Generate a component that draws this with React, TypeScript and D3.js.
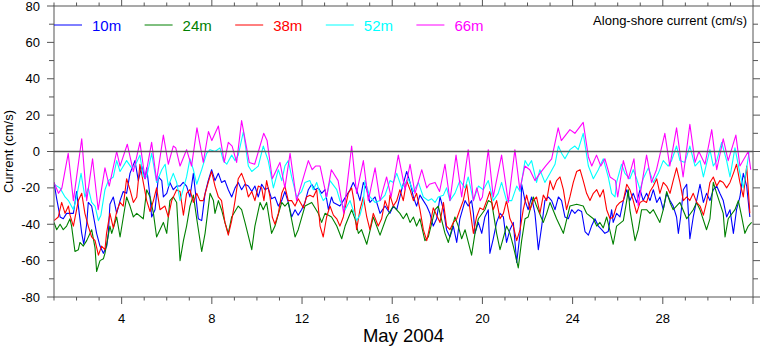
import React from "react";
import * as d3 from "d3";

// ---- data: [day of May 2004, current cm/s] ----
const depth10: [number, number][] = [
  [1.0,-17],[1.12,-26],[1.27,-36],[1.41,-37],[1.56,-34],[1.71,-34],[1.86,-34],[2.0,-22],[2.08,-30],[2.23,-45],[2.32,-51],[2.45,-40],[2.52,-28],[2.67,-30],[2.89,-45],[3.04,-52],[3.19,-56],[3.34,-52],[3.41,-45],[3.48,-29],[3.63,-25],[3.78,-34],[3.93,-27],[4.07,-22],[4.22,-23],[4.37,-12],[4.59,-5],[4.74,-16],[4.89,-8],[5.04,-15],[5.11,-9],[5.26,-25],[5.33,-36],[5.48,-32],[5.63,-14],[5.78,-16],[5.85,-25],[6.0,-23],[6.14,-17],[6.29,-21],[6.44,-19],[6.59,-19],[6.73,-17],[6.88,-19],[7.03,-25],[7.18,-12],
  [7.4,-37],[7.55,-38],[7.7,-23],[7.84,-16],[7.99,-10],[8.14,-16],[8.29,-12],[8.43,-17],[8.58,-16],[8.73,-21],[8.88,-25],[9.03,-20],[9.17,-17],[9.32,-21],[9.47,-18],[9.62,-19],[9.77,-22],[9.91,-19],[10.06,-25],[10.21,-18],[10.36,-21],[10.5,-20],[10.65,-26],[10.8,-25],[10.95,-30],[11.1,-27],[11.24,-22],[11.39,-28],[11.54,-36],[11.69,-32],[11.83,-35],[11.98,-32],[12.13,-28],[12.28,-21],[12.43,-18],[12.58,-21],[12.72,-20],[12.87,-23],[13.02,-21],[13.17,-32],[13.31,-25],
  [13.39,-28],[13.68,-30],[13.83,-27],[14.13,-21],[14.27,-17],[14.42,-21],[14.57,-27],[14.72,-17],[14.87,-21],[15.01,-28],[15.24,-25],[15.46,-34],[15.68,-30],[15.9,-34],[16.05,-30],[16.2,-32],[16.42,-21],[16.64,-11],[16.79,-17],[16.94,-25],[17.08,-30],[17.23,-24],[17.38,-27],[17.53,-30],[17.67,-34],[17.82,-41],[17.97,-37],[18.12,-25],[18.27,-32],[18.41,-43],[18.56,-47],[18.71,-41],[18.86,-50],[19.0,-37],[19.23,-27],[19.37,-30],[19.52,-27],
  [19.6,-34],[19.67,-45],[19.82,-39],[19.97,-45],[20.11,-36],[20.26,-32],[20.33,-56],[20.48,-48],[20.63,-39],[20.78,-34],[20.93,-36],[21.07,-50],[21.22,-43],[21.37,-39],[21.52,-61],[21.67,-45],[21.74,-18],[21.89,-27],[22.03,-32],[22.18,-25],[22.33,-34],[22.48,-54],[22.63,-41],[22.77,-27],[22.92,-25],[23.07,-27],[23.22,-32],[23.37,-25],[23.51,-27],[23.66,-36],[23.81,-37],[23.96,-32],[24.1,-34],[24.25,-32],[24.4,-33],[24.55,-44],[24.7,-46],[24.84,-41],[24.99,-37],[25.14,-41],[25.29,-43],[25.43,-45],[25.58,-44],[25.73,-32],
  [25.8,-39],[25.95,-34],[26.1,-36],[26.25,-27],[26.4,-21],[26.54,-27],[26.69,-23],[26.84,-28],[26.99,-21],[27.13,-27],[27.28,-23],[27.43,-27],[27.58,-21],[27.73,-28],[27.87,-25],[28.02,-32],[28.17,-23],[28.32,-27],[28.46,-30],[28.61,-36],[28.69,-45],[28.79,-36],[28.91,-21],[29.06,-18],[29.2,-48],[29.35,-36],[29.5,-27],[29.65,-18],[29.8,-28],[29.94,-23],[30.09,-27],[30.24,-21],[30.39,-19],[30.53,-23],[30.68,-27],[30.83,-36],[30.98,-32],[31.13,-45],[31.27,-32],[31.42,-25],[31.57,-12],[31.72,-19],[31.86,-36]
];

const depth24: [number, number][] = [
  [1.0,-39],[1.12,-43],[1.27,-40],[1.41,-43],[1.56,-41],[1.71,-37],[1.78,-41],[1.93,-55],[2.08,-54],[2.15,-50],[2.3,-52],[2.45,-49],[2.67,-43],[2.82,-53],[2.89,-66],[3.04,-60],[3.19,-59],[3.26,-56],[3.48,-41],[3.56,-45],[3.78,-36],[3.93,-47],[4.22,-25],[4.37,-30],[4.52,-36],[4.67,-34],[4.96,-37],[5.11,-21],[5.26,-25],[5.41,-34],[5.55,-47],[5.85,-39],[6.0,-45],[6.14,-27],[6.29,-25],[6.44,-28],[6.59,-60],[6.74,-49],[6.88,-41],[7.03,-30],[7.18,-24],
  [7.33,-37],[7.55,-55],[7.7,-45],[7.92,-23],[8.07,-27],[8.14,-34],[8.29,-27],[8.43,-32],[8.58,-39],[8.73,-45],[8.88,-36],[9.17,-30],[9.32,-32],[9.47,-39],[9.77,-54],[9.91,-41],[10.14,-28],[10.28,-32],[10.43,-28],[10.65,-45],[10.8,-41],[11.1,-28],[11.24,-30],[11.39,-28],[11.69,-47],[11.83,-43],[12.13,-30],[12.43,-28],[12.72,-34],[12.87,-39],[13.02,-34],[13.31,-36],
  [13.54,-41],[13.76,-48],[13.91,-41],[14.2,-32],[14.35,-37],[14.5,-45],[14.64,-43],[14.87,-51],[15.16,-36],[15.46,-46],[15.75,-36],[16.05,-30],[16.34,-34],[16.49,-37],[16.64,-34],[16.79,-39],[16.94,-36],[17.08,-41],[17.23,-37],[17.45,-49],[17.6,-47],[17.9,-32],[18.04,-30],[18.34,-45],[18.49,-50],[18.78,-36],[18.93,-41],[19.08,-48],[19.23,-43],
  [19.52,-57],[19.67,-45],[19.82,-37],[20.11,-32],[20.26,-27],[20.41,-28],[20.63,-45],[20.78,-54],[21.07,-41],[21.22,-45],[21.37,-52],[21.59,-64],[21.74,-49],[21.89,-37],[22.03,-36],[22.26,-25],[22.4,-30],[22.7,-39],[22.85,-34],[23.0,-28],[23.29,-37],[23.59,-45],[23.88,-30],[24.18,-29],[24.47,-30],[24.62,-34],[24.92,-37],[25.07,-41],[25.21,-39],[25.36,-42],[25.51,-36],[25.8,-51],
  [25.95,-41],[26.25,-38],[26.4,-27],[26.47,-21],[26.54,-32],[26.77,-49],[26.91,-43],[27.06,-32],[27.28,-32],[27.43,-34],[27.58,-32],[27.87,-39],[28.02,-32],[28.17,-22],[28.32,-28],[28.46,-32],[28.76,-28],[29.06,-37],[29.35,-32],[29.5,-28],[29.65,-32],[29.94,-43],[30.09,-37],[30.24,-17],[30.39,-23],[30.68,-34],[30.76,-47],[30.9,-37],[31.2,-32],[31.35,-27],[31.5,-36],[31.64,-45],[31.79,-41],[31.94,-39]
];

const depth38: [number, number][] = [
  [1.0,-38],[1.19,-36],[1.34,-28],[1.49,-34],[1.64,-30],[1.71,-35],[1.86,-41],[2.08,-27],[2.23,-23],[2.37,-34],[2.52,-41],[2.67,-47],[2.82,-49],[2.97,-57],[3.11,-52],[3.26,-54],[3.33,-45],[3.48,-34],[3.63,-42],[3.78,-33],[3.93,-28],[4.07,-30],[4.22,-15],[4.37,-21],[4.52,-28],[4.67,-25],[4.81,-7],[4.96,-17],[5.11,-27],[5.26,-33],[5.41,-27],[5.55,-20],[5.7,-32],[5.92,-30],[6.07,-36],[6.22,-27],[6.44,-21],[6.59,-22],[6.74,-35],[6.88,-23],[7.03,-21],[7.18,-28],
  [7.33,-23],[7.47,-27],[7.62,-27],[7.84,-17],[7.99,-11],[8.14,-19],[8.29,-25],[8.43,-27],[8.58,-39],[8.73,-46],[8.88,-38],[9.03,-27],[9.17,-15],[9.32,-12],[9.47,-17],[9.62,-25],[9.77,-22],[9.91,-27],[10.06,-19],[10.21,-20],[10.31,-27],[10.43,-16],[10.58,-25],[10.68,-36],[10.8,-40],[10.95,-34],[11.1,-23],[11.24,-19],[11.39,-27],[11.54,-27],[11.69,-30],[11.83,-26],[12.06,-31],[12.2,-25],[12.35,-24],[12.5,-25],[12.65,-21],[12.8,-41],[12.94,-47],[13.09,-36],[13.24,-30],
  [13.39,-35],[13.54,-37],[13.68,-41],[13.83,-36],[14.05,-23],[14.2,-20],[14.3,-27],[14.42,-43],[14.57,-32],[14.72,-25],[14.87,-36],[15.01,-43],[15.16,-34],[15.38,-41],[15.53,-37],[15.68,-27],[15.83,-32],[15.9,-24],[16.05,-30],[16.2,-27],[16.34,-21],[16.49,-27],[16.64,-16],[16.79,-21],[16.94,-27],[17.08,-23],[17.23,-32],[17.38,-43],[17.53,-49],[17.67,-41],[17.82,-31],[17.97,-35],[18.12,-39],[18.27,-28],[18.41,-41],[18.56,-43],[18.71,-39],[18.86,-37],[19.0,-32],[19.15,-27],[19.3,-18],[19.45,-32],
  [19.6,-45],[19.74,-36],[19.89,-31],[20.04,-32],[20.19,-27],[20.33,-22],[20.48,-32],[20.63,-27],[20.78,-37],[20.93,-34],[21.07,-27],[21.22,-37],[21.37,-41],[21.52,-49],[21.67,-43],[21.81,-32],[21.96,-24],[22.11,-32],[22.26,-27],[22.4,-25],[22.55,-34],[22.7,-24],[22.85,-27],[23.0,-16],[23.14,-21],[23.29,-16],[23.44,-14],[23.59,-21],[23.73,-32],[23.88,-25],[24.03,-17],[24.18,-11],[24.33,-10],[24.47,-16],[24.62,-23],[24.77,-27],[24.92,-23],[25.07,-21],[25.21,-25],[25.36,-21],[25.51,-32],[25.66,-37],
  [25.8,-36],[25.95,-30],[26.1,-28],[26.25,-27],[26.4,-18],[26.54,-21],[26.69,-27],[26.84,-34],[26.99,-28],[27.13,-27],[27.28,-28],[27.43,-22],[27.58,-19],[27.73,-15],[27.87,-23],[28.02,-17],[28.17,-19],[28.32,-23],[28.46,-16],[28.61,-9],[28.76,-17],[28.91,-27],[29.06,-25],[29.2,-27],[29.35,-23],[29.5,-28],[29.65,-30],[29.8,-35],[29.94,-28],[30.09,-17],[30.24,-14],[30.39,-19],[30.53,-16],[30.68,-17],[30.83,-20],[30.98,-17],[31.13,-12],[31.27,-7],[31.42,-17],[31.57,-25],[31.72,-8],[31.86,-34]
];

const depth52: [number, number][] = [
  [1.0,-18],[1.26,-20],[1.49,-25],[1.64,-27],[1.86,-32],[2.0,-25],[2.2,-12],[2.37,-25],[2.52,-20],[2.67,-28],[2.82,-30],[2.97,-38],[3.08,-35],[3.26,-21],[3.41,-16],[3.63,-14],[3.78,-5],[3.93,-11],[4.22,-5],[4.44,-9],[4.59,-8],[4.81,-2],[4.96,-14],[5.11,-14],[5.33,-1],[5.55,-17],[5.78,-10],[5.93,-7],[6.07,-19],[6.29,-12],[6.44,-17],[6.59,-27],[6.88,-14],[7.03,-4],[7.18,-10],
  [7.33,-18],[7.55,-10],[7.77,-1],[7.92,1],[8.14,0],[8.36,2],[8.51,-5],[8.66,-7],[8.88,-2],[9.03,-5],[9.17,-2],[9.4,11],[9.62,-8],[9.77,-11],[10.06,-8],[10.28,3],[10.5,-5],[10.73,-20],[10.95,-10],[11.1,-16],[11.24,-8],[11.39,-5],[11.54,-14],[11.76,-25],[11.98,-22],[12.13,-17],[12.35,-16],[12.5,-21],[12.65,-17],[12.8,-23],[12.94,-27],[13.09,-25],
  [13.24,-16],[13.54,-21],[13.68,-27],[13.91,-32],[14.13,-27],[14.42,-38],[14.57,-35],[14.72,-28],[14.79,-16],[15.01,-25],[15.24,-28],[15.46,-27],[15.68,-24],[15.9,-16],[16.05,-17],[16.2,-12],[16.42,-20],[16.71,-15],[16.94,-22],[17.16,-17],[17.38,-25],[17.6,-27],[17.75,-26],[17.9,-28],[18.04,-25],[18.27,-24],[18.41,-20],[18.56,-27],[18.78,-23],[19.0,-16],[19.23,-20],[19.37,-14],
  [19.6,-27],[19.82,-19],[20.04,-21],[20.26,-16],[20.48,-27],[20.7,-23],[20.85,-17],[21.07,-27],[21.3,-27],[21.52,-19],[21.67,-22],[21.89,-5],[22.03,-8],[22.18,-5],[22.4,-17],[22.55,-10],[22.77,-17],[23.0,-12],[23.22,-7],[23.37,3],[23.51,-1],[23.66,-4],[23.88,1],[24.1,3],[24.25,1],[24.47,10],[24.7,-8],[24.92,-15],[25.14,-10],[25.36,-4],[25.58,-14],[25.73,-23],[25.88,-25],
  [25.95,-17],[26.17,-7],[26.32,-12],[26.54,-15],[26.69,-10],[26.84,-15],[26.99,-21],[27.13,-15],[27.36,-9],[27.58,-17],[27.8,-12],[28.02,-5],[28.24,-8],[28.39,-5],[28.61,3],[28.76,-5],[28.98,-6],[29.2,3],[29.43,-8],[29.65,-5],[29.8,-14],[30.09,1],[30.24,-8],[30.39,-5],[30.61,5],[30.83,-5],[30.98,-14],[31.2,2],[31.42,-12],[31.57,-20],[31.72,-9],[31.83,0]
];

const depth66: [number, number][] = [
  [1.0,-17],[1.2,-23],[1.35,-20],[1.63,-1],[1.86,-27],[2.23,7],[2.45,-27],[2.71,-4],[2.96,-32],[3.26,-9],[3.45,-19],[3.78,0],[3.93,-8],[4.25,4],[4.52,-11],[4.81,5],[5.04,-15],[5.33,5],[5.55,-16],[5.85,9],[6.07,-7],[6.29,3],[6.4,2],[6.59,-8],[6.88,1],[7.1,-8],[7.34,13],[7.62,-6],[7.85,11],[8.0,6],[8.29,14],[8.55,-6],[8.73,5],[8.9,3],[9.1,-6],[9.32,17],[9.66,-6],[9.9,-7],[10.3,10],[10.45,6],[10.68,-15],[11.02,-6],[11.24,-20],[11.47,-1],[11.76,-27],[12.28,-5],[12.45,-10],[12.6,-8],[12.8,-8],[13.09,-25],[13.3,-10],[13.6,-16],[13.85,-34],
  [14.2,3],[14.42,-23],[14.72,-5],[14.94,-27],[15.24,-9],[15.46,-27],[15.75,-14],[15.95,-25],[16.27,-2],[16.57,-21],[16.79,-7],[17.01,-23],[17.31,-10],[17.53,-20],[17.65,-18],[17.9,-17],[18.1,-22],[18.34,-7],[18.56,-27],[18.83,-2],[19.08,-25],[19.37,1],[19.6,-27],[19.75,-20],[19.9,-27],[20.0,-25],[20.26,1],[20.48,-25],[20.85,-2],[21.15,-28],[21.44,1],[21.66,-21],[21.88,-8],[22.1,-10],[22.33,-16],[22.55,-12],[22.8,-8],[23.07,-4],[23.36,13],[23.5,6],[23.88,12],[24.1,10],[24.47,16],[24.7,-3],[24.85,-8],[25.06,-2],[25.25,-8],[25.43,-4],[25.66,-14],[25.9,-16],[26.0,-25],
  [26.25,-5],[26.47,-15],[26.72,-4],[26.91,-30],[27.28,-2],[27.5,-17],[27.72,-10],[28.09,10],[28.31,-8],[28.61,13],[28.9,-14],[29.2,15],[29.43,-6],[29.6,0],[29.87,-7],[30.17,12],[30.39,-10],[30.68,7],[30.9,-5],[31.24,9],[31.42,-8],[31.79,0],[31.9,-10]
];

const seriesLabels = ["10m", "24m", "38m", "52m", "66m"];
const seriesColors = ["#0000ff", "#008000", "#ff0000", "#00ffff", "#ff00ff"];
const seriesData = [depth10, depth24, depth38, depth52, depth66];

const yTickValues = [-80, -60, -40, -20, 0, 20, 40, 60, 80];
const xTickLabels = [4, 8, 12, 16, 20, 24, 28];
const xLabel = "May 2004";
const yLabel = "Current (cm/s)";
const title = "Along-shore current (cm/s)";

const W = 762;
const H = 346;
const PL = 54, PR = 753, PT = 6, PB = 297;
const FONT = "'Liberation Sans', Arial, Helvetica, sans-serif";
const AXIS = "#555";

export default function App() {
  const x = d3.scaleLinear().domain([1, 32]).range([PL, PR]);
  const y = d3.scaleLinear().domain([-80, 80]).range([PB, PT]);
  const line = d3
    .line<[number, number]>()
    .x((d) => x(d[0]))
    .y((d) => y(d[1]))
    .curve(d3.curveLinear);

  const dayTicks = d3.range(1, 33);
  const valTicks = d3.range(-80, 81, 10);

  return (
    <svg
      width={W}
      height={H}
      style={{ position: "absolute", left: 0, top: 0, background: "#fff" }}
      fontFamily={FONT}
    >
      <defs>
        <clipPath id="plotclip">
          <rect x={PL} y={PT} width={PR - PL} height={PB - PT} />
        </clipPath>
      </defs>
      <rect x={0} y={0} width={W} height={H} fill="#fff" />

      <g clipPath="url(#plotclip)">
        {seriesData.map((s, i) => (
          <path key={i} d={line(s) || ""} fill="none" stroke={seriesColors[i]} strokeWidth={1.1} strokeLinejoin="round" />
        ))}
      </g>

      <line x1={PL} x2={PR} y1={y(0)} y2={y(0)} stroke="#555" strokeWidth={1.6} />

      <rect x={PL} y={PT} width={PR - PL} height={PB - PT} fill="none" stroke={AXIS} strokeWidth={1} />

      {dayTicks.map((d) => {
        const major = d % 4 === 0;
        const len = major ? 7 : 3.5;
        return (
          <g key={"xt" + d}>
            <line x1={x(d)} x2={x(d)} y1={PB} y2={PB + len} stroke={AXIS} />
            <line x1={x(d)} x2={x(d)} y1={PT} y2={PT - len} stroke={AXIS} />
          </g>
        );
      })}
      {valTicks.map((v) => {
        const major = v % 20 === 0;
        const len = major ? 7 : 5;
        return (
          <g key={"yt" + v}>
            <line x1={PL} x2={PL - len} y1={y(v)} y2={y(v)} stroke={AXIS} />
            <line x1={PR} x2={PR + len} y1={y(v)} y2={y(v)} stroke={AXIS} />
          </g>
        );
      })}

      {yTickValues.map((v) => (
        <text key={"yl" + v} x={40} y={y(v) + 4.6} fontSize={13} textAnchor="end" fill="#000">
          {v}
        </text>
      ))}
      {xTickLabels.map((d) => (
        <text key={"xl" + d} x={x(d)} y={322.5} fontSize={13} textAnchor="middle" fill="#000">
          {d}
        </text>
      ))}

      <text x={(PL + PR) / 2} y={342} fontSize={18.5} textAnchor="middle" fill="#000">
        {xLabel}
      </text>
      <text
        transform={`translate(13, ${(PT + PB) / 2}) rotate(-90)`}
        fontSize={13}
        textAnchor="middle"
        fill="#000"
      >
        {yLabel}
      </text>
      <text x={747} y={25} fontSize={13} textAnchor="end" fill="#000">
        {title}
      </text>

      {seriesLabels.map((lab, i) => {
        const x0 = 54 + i * 90.6;
        return (
          <g key={"lg" + i}>
            <line x1={x0} x2={x0 + 28} y1={25} y2={25} stroke={seriesColors[i]} strokeWidth={1} />
            <text x={x0 + 38} y={31.3} fontSize={15} fill={seriesColors[i]}>
              {lab}
            </text>
          </g>
        );
      })}
    </svg>
  );
}
